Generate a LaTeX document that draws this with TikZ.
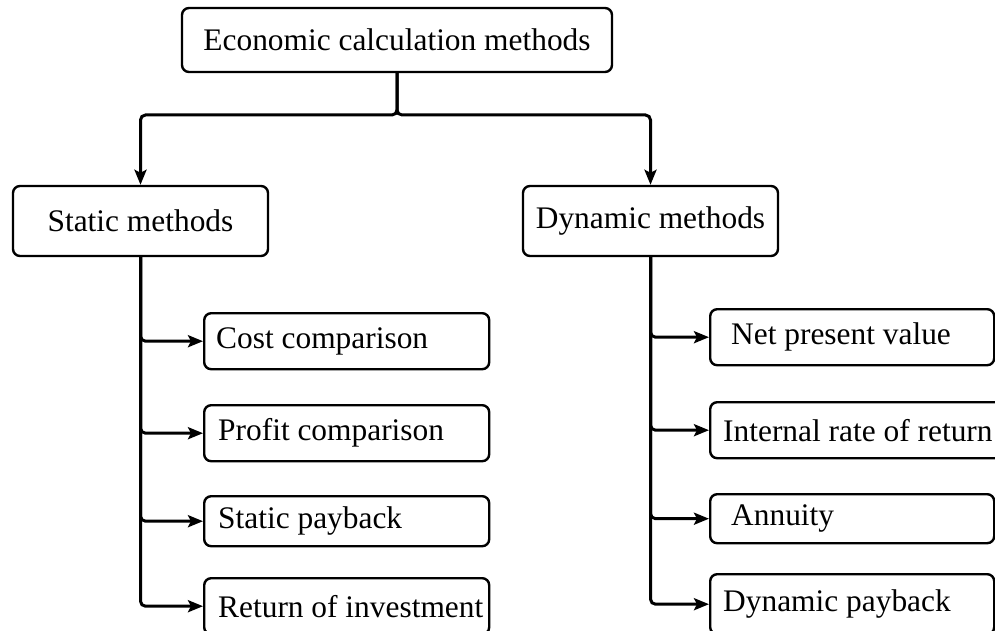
\documentclass[tikz,border=0pt]{standalone}
\usepackage{fontspec}
\setmainfont{Liberation Serif}
\usetikzlibrary{arrows.meta}
% left-aligned label of fixed width with a left indent
\newcommand\leafline[3]{\makebox[#1][l]{\hspace{#2}#3}}
\begin{document}
\begin{tikzpicture}[x=1pt,y=-1pt,
  box/.style={draw, line width=2.4pt, rounded corners=7pt, inner sep=0pt,
              font=\fontsize{31.4}{36}\selectfont},
  headbox/.style={box, minimum width=255pt, minimum height=70pt},
  leaf/.style={box, anchor=north west, minimum height=#1},
  link/.style={line width=3pt, rounded corners=5pt,
               -{Stealth[length=15pt,width=12pt,inset=3pt]}}]
\useasboundingbox (0,0) rectangle (995,631);
\clip (0,0) rectangle (995,631);

% root and the two method groups
\node[box, minimum width=430pt, minimum height=64pt] (top) at (397,40) {Economic calculation methods};
\node[headbox] (static) at (140.5,221) {Static methods};
\node[headbox] (dynamic) at (650.5,221) {Dynamic methods};

% static methods
\node[leaf=56pt] (cost)   at (203,312) {\leafline{285pt}{12pt}{Cost comparison}};
\node[leaf=56pt] (profit) at (203,404) {\leafline{285pt}{14pt}{Profit comparison}};
\node[leaf=50pt] (spay)   at (203,495) {\leafline{285pt}{14pt}{Static payback}};
\node[leaf=56pt] (roi)    at (203,577) {\leafline{285pt}{14pt}{Return of investment}};

% dynamic methods
\node[leaf=56pt] (npv)  at (709,308) {\leafline{284pt}{21pt}{Net present value}};
\node[leaf=56pt] (irr)  at (709,401) {\leafline{310pt}{13pt}{Internal rate of return}};
\node[leaf=49pt] (ann)  at (709,493) {\leafline{284pt}{21pt}{Annuity}};
\node[leaf=60pt] (dpay) at (709,573) {\leafline{284pt}{13pt}{Dynamic payback}};

% connectors
\coordinate (split) at (397,115);
\draw[link] (top.south) -- (split) -| (static.north);
\draw[link] (top.south) -- (split) -| (dynamic.north);

\foreach \leafnode in {cost,profit,spay,roi}
  \draw[link] (static.south) |- (\leafnode.west);
\foreach \leafnode in {npv,irr,ann,dpay}
  \draw[link] (dynamic.south) |- (\leafnode.west);
\end{tikzpicture}
\end{document}
